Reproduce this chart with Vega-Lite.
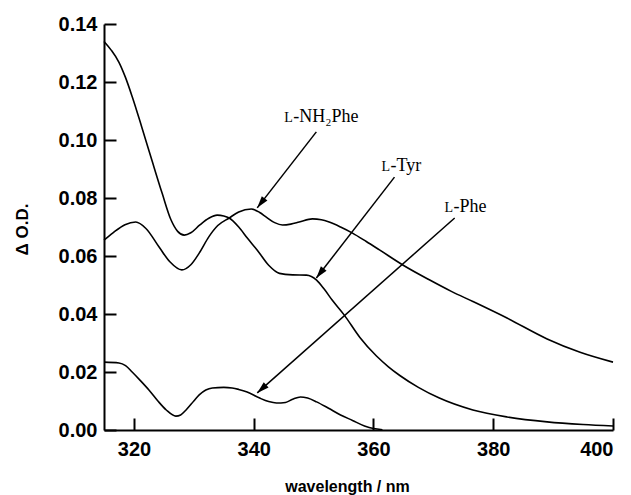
{
  "$schema": "https://vega.github.io/schema/vega-lite/v6.json",
  "width": 509,
  "height": 406,
  "autosize": {"type": "none"},
  "padding": {"left": 104, "top": 24, "right": 18, "bottom": 65},
  "background": "white",
  "config": {
    "view": {"stroke": null},
    "axis": {
      "grid": false,
      "domainColor": "black", "domainWidth": 2,
      "tickColor": "black", "tickWidth": 2, "tickSize": -12,
      "labelFont": "Liberation Sans", "labelFontWeight": "bold", "labelFontSize": 20, "labelColor": "black",
      "titleFont": "Liberation Sans", "titleFontWeight": "bold", "titleFontSize": 16, "titleColor": "black"
    },
    "axisX": {"labelPadding": 21, "titleX": 243, "titleY": 61, "titleAlign": "center", "titleBaseline": "alphabetic"},
    "axisY": {"labelPadding": 19, "titleX": -77, "titleY": 205, "titleAngle": -90, "titleAlign": "center", "titleBaseline": "alphabetic", "titleFontSize": 17}
  },
  "datasets": {
    "curves": [
      {"series": "Tyr", "wl": 315, "od": 0.1340},
      {"series": "Tyr", "wl": 316.2, "od": 0.1310},
      {"series": "Tyr", "wl": 317.5, "od": 0.1268},
      {"series": "Tyr", "wl": 318.6, "od": 0.1215},
      {"series": "Tyr", "wl": 319.7, "od": 0.1150},
      {"series": "Tyr", "wl": 321.3, "od": 0.1045},
      {"series": "Tyr", "wl": 323, "od": 0.0930},
      {"series": "Tyr", "wl": 324.7, "od": 0.0817},
      {"series": "Tyr", "wl": 326.2, "od": 0.0724},
      {"series": "Tyr", "wl": 327.3, "od": 0.0685},
      {"series": "Tyr", "wl": 328.4, "od": 0.0672},
      {"series": "Tyr", "wl": 329.5, "od": 0.0680},
      {"series": "Tyr", "wl": 331, "od": 0.0707},
      {"series": "Tyr", "wl": 332.5, "od": 0.0730},
      {"series": "Tyr", "wl": 333.9, "od": 0.0741},
      {"series": "Tyr", "wl": 335, "od": 0.0738},
      {"series": "Tyr", "wl": 335.9, "od": 0.0731},
      {"series": "Tyr", "wl": 337.5, "od": 0.0700},
      {"series": "Tyr", "wl": 339, "od": 0.0660},
      {"series": "Tyr", "wl": 340.6, "od": 0.0620},
      {"series": "Tyr", "wl": 342.5, "od": 0.0568},
      {"series": "Tyr", "wl": 344.3, "od": 0.0540},
      {"series": "Tyr", "wl": 346.5, "od": 0.0535},
      {"series": "Tyr", "wl": 348.8, "od": 0.0534},
      {"series": "Tyr", "wl": 350.5, "od": 0.0517},
      {"series": "Tyr", "wl": 351.8, "od": 0.0485},
      {"series": "Tyr", "wl": 353.1, "od": 0.0448},
      {"series": "Tyr", "wl": 355.1, "od": 0.0397},
      {"series": "Tyr", "wl": 357.7, "od": 0.0320},
      {"series": "Tyr", "wl": 360.5, "od": 0.0255},
      {"series": "Tyr", "wl": 362.5, "od": 0.0218},
      {"series": "Tyr", "wl": 364.4, "od": 0.0188},
      {"series": "Tyr", "wl": 367.5, "od": 0.0147},
      {"series": "Tyr", "wl": 371, "od": 0.0110},
      {"series": "Tyr", "wl": 376.6, "od": 0.0069},
      {"series": "Tyr", "wl": 382.3, "od": 0.0045},
      {"series": "Tyr", "wl": 389, "od": 0.0028},
      {"series": "Tyr", "wl": 395, "od": 0.0019},
      {"series": "Tyr", "wl": 400, "od": 0.0014},
      {"series": "NH2Phe", "wl": 315, "od": 0.0655},
      {"series": "NH2Phe", "wl": 316.5, "od": 0.0680},
      {"series": "NH2Phe", "wl": 318.5, "od": 0.0708},
      {"series": "NH2Phe", "wl": 320.3, "od": 0.0717},
      {"series": "NH2Phe", "wl": 322, "od": 0.0695},
      {"series": "NH2Phe", "wl": 324.2, "od": 0.0631},
      {"series": "NH2Phe", "wl": 326, "od": 0.0580},
      {"series": "NH2Phe", "wl": 328, "od": 0.0552},
      {"series": "NH2Phe", "wl": 329.5, "od": 0.0570},
      {"series": "NH2Phe", "wl": 330.9, "od": 0.0610},
      {"series": "NH2Phe", "wl": 332.5, "od": 0.0666},
      {"series": "NH2Phe", "wl": 334, "od": 0.0705},
      {"series": "NH2Phe", "wl": 335.9, "od": 0.0731},
      {"series": "NH2Phe", "wl": 337.5, "od": 0.0752},
      {"series": "NH2Phe", "wl": 339.6, "od": 0.0762},
      {"series": "NH2Phe", "wl": 341, "od": 0.0750},
      {"series": "NH2Phe", "wl": 342.1, "od": 0.0734},
      {"series": "NH2Phe", "wl": 343.5, "od": 0.0715},
      {"series": "NH2Phe", "wl": 344.8, "od": 0.0707},
      {"series": "NH2Phe", "wl": 346.2, "od": 0.0710},
      {"series": "NH2Phe", "wl": 347.6, "od": 0.0717},
      {"series": "NH2Phe", "wl": 349.8, "od": 0.0728},
      {"series": "NH2Phe", "wl": 351.3, "od": 0.0725},
      {"series": "NH2Phe", "wl": 352.6, "od": 0.0717},
      {"series": "NH2Phe", "wl": 354.5, "od": 0.0700},
      {"series": "NH2Phe", "wl": 356.5, "od": 0.0679},
      {"series": "NH2Phe", "wl": 358.8, "od": 0.0650},
      {"series": "NH2Phe", "wl": 361, "od": 0.0621},
      {"series": "NH2Phe", "wl": 364.9, "od": 0.0569},
      {"series": "NH2Phe", "wl": 369.4, "od": 0.0517},
      {"series": "NH2Phe", "wl": 373, "od": 0.0478},
      {"series": "NH2Phe", "wl": 376.6, "od": 0.0443},
      {"series": "NH2Phe", "wl": 382.3, "od": 0.0386},
      {"series": "NH2Phe", "wl": 389, "od": 0.0314},
      {"series": "NH2Phe", "wl": 394.5, "od": 0.0268},
      {"series": "NH2Phe", "wl": 400, "od": 0.0234},
      {"series": "Phe", "wl": 315, "od": 0.0234},
      {"series": "Phe", "wl": 317.5, "od": 0.0231},
      {"series": "Phe", "wl": 318.6, "od": 0.0222},
      {"series": "Phe", "wl": 319.7, "od": 0.0200},
      {"series": "Phe", "wl": 321, "od": 0.0172},
      {"series": "Phe", "wl": 322.5, "od": 0.0138},
      {"series": "Phe", "wl": 324, "od": 0.0100},
      {"series": "Phe", "wl": 325.4, "od": 0.0069},
      {"series": "Phe", "wl": 327, "od": 0.0048},
      {"series": "Phe", "wl": 327.8, "od": 0.0052},
      {"series": "Phe", "wl": 328.7, "od": 0.0069},
      {"series": "Phe", "wl": 330, "od": 0.0100},
      {"series": "Phe", "wl": 330.9, "od": 0.0121},
      {"series": "Phe", "wl": 332, "od": 0.0138},
      {"series": "Phe", "wl": 333.1, "od": 0.0145},
      {"series": "Phe", "wl": 335, "od": 0.0147},
      {"series": "Phe", "wl": 336.4, "od": 0.0145},
      {"series": "Phe", "wl": 337.5, "od": 0.0140},
      {"series": "Phe", "wl": 338.9, "od": 0.0131},
      {"series": "Phe", "wl": 341, "od": 0.0110},
      {"series": "Phe", "wl": 342.5, "od": 0.0098},
      {"series": "Phe", "wl": 343.8, "od": 0.0093},
      {"series": "Phe", "wl": 345.3, "od": 0.0095},
      {"series": "Phe", "wl": 346.5, "od": 0.0106},
      {"series": "Phe", "wl": 347.8, "od": 0.0114},
      {"series": "Phe", "wl": 349, "od": 0.0110},
      {"series": "Phe", "wl": 350.5, "od": 0.0097},
      {"series": "Phe", "wl": 352.5, "od": 0.0075},
      {"series": "Phe", "wl": 354.5, "od": 0.0052},
      {"series": "Phe", "wl": 356.5, "od": 0.0033},
      {"series": "Phe", "wl": 358.5, "od": 0.0014},
      {"series": "Phe", "wl": 360, "od": 0.0005},
      {"series": "Phe", "wl": 361.5, "od": 0.0001}
    ],
    "arrows": [
      {"series": "NH2Phe", "wl": 350.46, "od": 0.1028, "wl2": 340.59, "od2": 0.0766},
      {"series": "Tyr", "wl": 363.51, "od": 0.0872, "wl2": 350.46, "od2": 0.0524},
      {"series": "Phe", "wl": 373.56, "od": 0.0731, "wl2": 340.59, "od2": 0.0128}
    ],
    "labels": [
      {"series": "NH2Phe", "wl": 345.1, "od": 0.1062, "pre": "L", "rest": "-NH₂Phe"},
      {"series": "Tyr", "wl": 361.34, "od": 0.0893, "pre": "L", "rest": "-Tyr"},
      {"series": "Phe", "wl": 371.88, "od": 0.0752, "pre": "L", "rest": "-Phe"}
    ]
  },
  "layer": [
    {
      "data": {"name": "curves"},
      "mark": {"type": "line", "color": "black", "strokeWidth": 1.6, "interpolate": "monotone"},
      "encoding": {
        "x": {
          "field": "wl", "type": "quantitative", "title": "wavelength / nm",
          "scale": {"domain": [315, 400], "nice": false, "zero": false},
          "axis": {"values": [320, 340, 360, 380, 400]}
        },
        "y": {
          "field": "od", "type": "quantitative", "title": "Δ O.D.",
          "scale": {"domain": [0, 0.14], "nice": false},
          "axis": {"values": [0, 0.02, 0.04, 0.06, 0.08, 0.1, 0.12, 0.14], "format": ".2f"}
        },
        "detail": {"field": "series"}
      }
    },
    {
      "data": {"name": "arrows"},
      "mark": {"type": "rule", "color": "black", "strokeWidth": 1.5},
      "encoding": {
        "x": {"field": "wl", "type": "quantitative", "title": "wavelength / nm"},
        "y": {"field": "od", "type": "quantitative", "title": "Δ O.D."},
        "x2": {"field": "wl2"},
        "y2": {"field": "od2"}
      }
    },
    {
      "data": {"name": "arrows"},
      "transform": [{"filter": "datum.series === 'NH2Phe'"}],
      "mark": {"type": "point", "shape": "M0,0L0.3,1L-0.3,1Z", "filled": true, "color": "black", "size": 576, "angle": 218, "opacity": 1},
      "encoding": {
        "x": {"field": "wl2", "type": "quantitative", "title": "wavelength / nm"},
        "y": {"field": "od2", "type": "quantitative", "title": "Δ O.D."}
      }
    },
    {
      "data": {"name": "arrows"},
      "transform": [{"filter": "datum.series === 'Tyr'"}],
      "mark": {"type": "point", "shape": "M0,0L0.3,1L-0.3,1Z", "filled": true, "color": "black", "size": 576, "angle": 218, "opacity": 1},
      "encoding": {
        "x": {"field": "wl2", "type": "quantitative", "title": "wavelength / nm"},
        "y": {"field": "od2", "type": "quantitative", "title": "Δ O.D."}
      }
    },
    {
      "data": {"name": "arrows"},
      "transform": [{"filter": "datum.series === 'Phe'"}],
      "mark": {"type": "point", "shape": "M0,0L0.3,1L-0.3,1Z", "filled": true, "color": "black", "size": 576, "angle": 228, "opacity": 1},
      "encoding": {
        "x": {"field": "wl2", "type": "quantitative", "title": "wavelength / nm"},
        "y": {"field": "od2", "type": "quantitative", "title": "Δ O.D."}
      }
    },
    {
      "data": {"name": "labels"},
      "mark": {"type": "text", "align": "left", "baseline": "alphabetic", "font": "Liberation Serif", "fontSize": 14, "color": "black"},
      "encoding": {
        "x": {"field": "wl", "type": "quantitative", "title": "wavelength / nm"},
        "y": {"field": "od", "type": "quantitative", "title": "Δ O.D."},
        "text": {"field": "pre"}
      }
    },
    {
      "data": {"name": "labels"},
      "mark": {"type": "text", "align": "left", "baseline": "alphabetic", "font": "Liberation Serif", "fontSize": 18, "color": "black", "dx": 9},
      "encoding": {
        "x": {"field": "wl", "type": "quantitative", "title": "wavelength / nm"},
        "y": {"field": "od", "type": "quantitative", "title": "Δ O.D."},
        "text": {"field": "rest"}
      }
    }
  ]
}
